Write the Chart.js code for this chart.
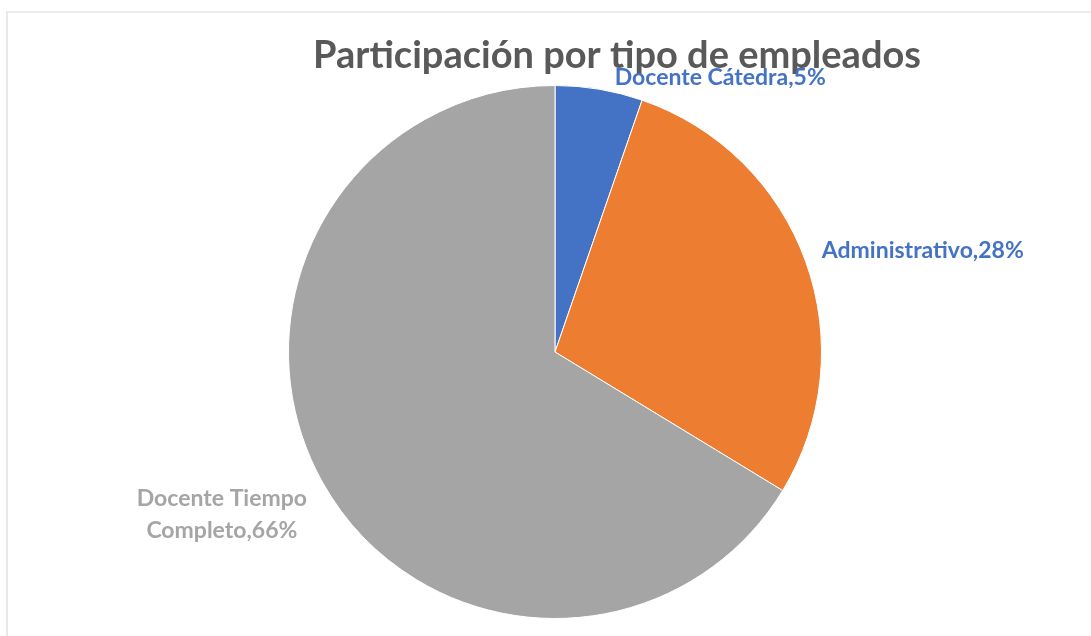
<!DOCTYPE html>
<html>
<head>
<meta charset="utf-8">
<script src="https://cdn.jsdelivr.net/npm/chart.js@4"></script>
<style>
  body { margin: 0; background: #fff; }
  #frame { position: absolute; left: 6px; top: 11px; width: 1085px; height: 625px;
           border-left: 2px solid #e8e8e8; border-top: 2px solid #ececec; }
  #wrap { position: absolute; left: 0; top: 0; width: 1091px; height: 636px; }
</style>
</head>
<body>
<div id="frame"></div>
<div id="wrap"><canvas id="mycanvas" width="1091" height="636"></canvas></div>
<script>
var labels = ["Docente Cátedra", "Administrativo", "Docente Tiempo Completo"];
var shares = [5.3, 28.4, 66.3];
var pctText = ["5%", "28%", "66%"];
var colors = ['#4472C4', '#ED7D31', '#A5A5A5'];
var labelColors = ['#4472C4', '#4472C4', '#A5A5A5'];

// where each data label sits, as fractions of the radius from the centre
var labelSpots = [[0.62, -1.03], [1.38, -0.38], [-1.25, 0.61]];

var labelPlugin = {
  id: 'pieLabels',
  afterDraw: function(chart) {
    var ctx = chart.ctx;
    var arc = chart.getDatasetMeta(0).data[0];
    var cx = arc.x, cy = arc.y, r = arc.outerRadius;

    ctx.save();
    ctx.textAlign = 'center';
    ctx.textBaseline = 'middle';
    ctx.fillStyle = '#595959';
    ctx.font = 'bold 38px Lato';
    ctx.fillText('Participación por tipo de empleados', 617, 56);

    ctx.font = 'bold 23px Lato';
    for (var i = 0; i < labels.length; i++) {
      var x = cx + labelSpots[i][0] * r;
      var y = cy + labelSpots[i][1] * r;
      ctx.fillStyle = labelColors[i];
      if (i == 2) {
        ctx.fillText('Docente Tiempo', x, y - 16);
        ctx.fillText('Completo,' + pctText[i], x, y + 16);
      } else {
        ctx.fillText(labels[i] + ',' + pctText[i], x, y);
      }
    }
    ctx.restore();
  }
};

var ctx = document.getElementById('mycanvas');
var pieChart = new Chart(ctx, {
  type: 'pie',
  data: {
    labels: labels,
    datasets: [{
      data: shares,
      backgroundColor: colors,
      borderColor: '#ffffff',
      borderWidth: 1
    }]
  },
  options: {
    responsive: false,
    animation: false,
    layout: { padding: { left: 288, right: 269, top: 85, bottom: 17 } },
    plugins: {
      legend: { display: false },
      tooltip: { enabled: false }
    }
  },
  plugins: [labelPlugin]
});
</script>
</body>
</html>
